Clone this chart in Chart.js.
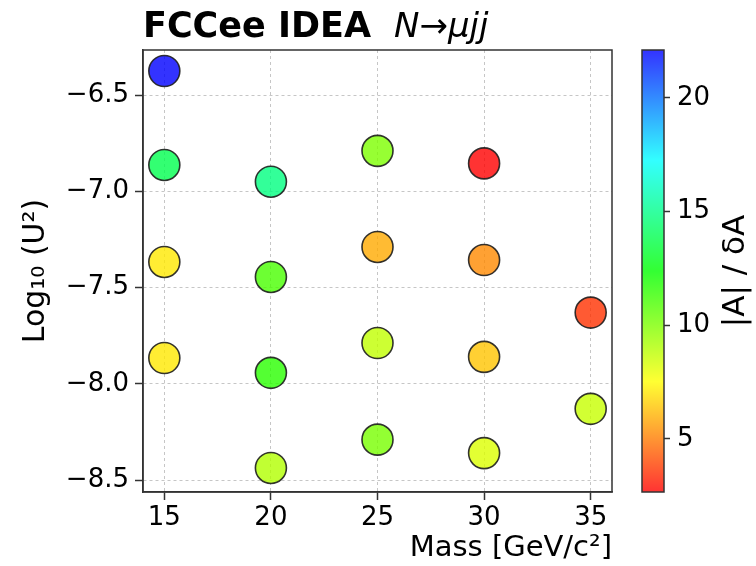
<!DOCTYPE html>
<html>
<head>
<meta charset="utf-8">
<script src="https://cdn.jsdelivr.net/npm/chart.js@4/dist/chart.umd.min.js"></script>
<style>
  html, body { margin: 0; padding: 0; background: #ffffff; }
  #wrap { position: relative; width: 756px; height: 566px; }
  canvas { position: absolute; left: 0; top: 0; }
</style>
</head>
<body>
<div id="wrap">
  <canvas id="main" width="756" height="566"></canvas>
  <canvas id="cbar" width="756" height="566"></canvas>
</div>
<script>
// ---- data ----
const massValues = [15, 15, 15, 15, 20, 20, 20, 20, 25, 25, 25, 25, 30, 30, 30, 30, 35, 35];
const logU2Values = [-6.375, -6.863, -7.367, -7.866, -6.95, -7.445, -7.943, -8.437, -6.79, -7.289, -7.788, -8.29, -6.855, -7.357, -7.86, -8.36, -7.63, -8.13];
const significance = [22.1, 13.9, 7.1, 7.1, 14.8, 11.0, 11.6, 9.0, 10.0, 5.9, 8.7, 10.1, 2.67, 5.3, 6.4, 8.2, 3.6, 8.6];
const xTickValues = [15, 20, 25, 30, 35];
const yTickValues = [-6.5, -7.0, -7.5, -8.0, -8.5];
const cbarTickValues = [5, 10, 15, 20];
const titleBold = "FCCee IDEA";
const titleItalic = "N\u2192\u03BCjj";
const xLabel = "Mass [GeV/c\u00B2]";
const yLabel = "Log\u2081\u2080 (U\u00B2)";
const cbarLabel = "|A| / \u03B4A";

const vMin = Math.min(...significance);
const vMax = Math.max(...significance);
function colorFor(v, alpha) {
  const t = Math.max(0, Math.min(1, (v - vMin) / (vMax - vMin)));
  return `hsla(${(t * 240).toFixed(1)}, 100%, 50%, ${alpha})`;
}
const FONT = "'DejaVu Sans', 'Liberation Sans', sans-serif";
const minusFmt = (v) => String(v).replace('-', '\u2212');

const points = massValues.map((m, i) => ({ x: m, y: logU2Values[i], v: significance[i] }));

const framePlugin = {
  id: 'frame',
  afterDraw(chart) {
    const { ctx, chartArea: a } = chart;
    ctx.save();
    ctx.strokeStyle = '#333333';
    ctx.lineWidth = 1.5;
    ctx.strokeRect(a.left, a.top, a.right - a.left, a.bottom - a.top);
    ctx.fillStyle = '#000';
    ctx.textBaseline = 'alphabetic';
    ctx.textAlign = 'left';
    ctx.font = `bold 35px ${FONT}`;
    ctx.fillText(titleBold, 143, 37);
    ctx.font = `italic 34px ${FONT}`;
    ctx.fillText(titleItalic, 394, 37);
    ctx.restore();
  }
};

new Chart(document.getElementById('main'), {
  type: 'scatter',
  data: {
    datasets: [{
      data: points,
      pointRadius: 15.5,
      pointHoverRadius: 15.5,
      pointBorderWidth: 1.6,
      pointBorderColor: 'rgba(30,30,30,0.9)',
      pointBackgroundColor: points.map(p => colorFor(p.v, 0.8))
    }]
  },
  options: {
    responsive: false,
    animation: false,
    devicePixelRatio: 1,
    layout: { padding: { top: 50, right: 144, bottom: 0, left: 0 } },
    plugins: { legend: { display: false }, tooltip: { enabled: false }, title: { display: false } },
    scales: {
      x: {
        type: 'linear', min: 14, max: 36,
        afterFit(s) { s.height = 74; },
        afterBuildTicks(s) { s.ticks = xTickValues.map(v => ({ value: v })); },
        ticks: { color: '#000', font: { family: FONT, size: 26 }, padding: 3, maxRotation: 0, callback: (v) => minusFmt(v) },
        grid: { color: 'rgba(176,176,176,0.9)', lineWidth: 0.8, tickLength: 8, tickColor: '#333', tickWidth: 1.5 },
        border: { display: true, color: '#333', width: 1.5, dash: [3, 3] },
        title: { display: true, text: xLabel, align: 'end', color: '#000', font: { family: FONT, size: 29 }, padding: { top: 1, bottom: 0 } }
      },
      y: {
        type: 'linear', min: -8.562, max: -6.266,
        afterFit(s) { s.width = 143; },
        afterBuildTicks(s) { s.ticks = yTickValues.map(v => ({ value: v })); },
        ticks: { color: '#000', font: { family: FONT, size: 26 }, padding: 6, callback: (v) => minusFmt(v.toFixed(1)) },
        grid: { color: 'rgba(176,176,176,0.9)', lineWidth: 0.8, tickLength: 8, tickColor: '#333', tickWidth: 1.5 },
        border: { display: true, color: '#333', width: 1.5, dash: [3, 3] },
        title: { display: true, text: yLabel, color: '#000', font: { family: FONT, size: 30 }, padding: { top: 18, bottom: 0 } }
      }
    }
  },
  plugins: [framePlugin]
});

// ---- colorbar ----
const cbarPlugin = {
  id: 'cbar',
  beforeDatasetsDraw(chart) {
    const { ctx, chartArea: a } = chart;
    const ys = chart.scales.y;
    const yTop = ys.getPixelForValue(vMax), yBot = ys.getPixelForValue(vMin);
    const g = ctx.createLinearGradient(0, yBot, 0, yTop);
    for (let i = 0; i <= 24; i++) {
      const v = vMin + (vMax - vMin) * i / 24;
      g.addColorStop(i / 24, colorFor(v, 0.8));
    }
    ctx.save();
    ctx.fillStyle = g;
    ctx.fillRect(a.left, yTop, a.right - a.left, yBot - yTop);
    ctx.strokeStyle = '#333';
    ctx.lineWidth = 1.5;
    ctx.strokeRect(a.left, yTop, a.right - a.left, yBot - yTop);
    ctx.translate(736, (a.top + a.bottom) / 2);
    ctx.rotate(-Math.PI / 2);
    ctx.fillStyle = '#000';
    ctx.font = `31px ${FONT}`;
    ctx.textAlign = 'center';
    ctx.textBaseline = 'middle';
    ctx.fillText(cbarLabel, 0, 0);
    ctx.restore();
  }
};

new Chart(document.getElementById('cbar'), {
  type: 'scatter',
  data: { datasets: [{ data: [] }] },
  options: {
    responsive: false,
    animation: false,
    devicePixelRatio: 1,
    layout: { padding: { top: 50, right: 0, bottom: 74, left: 642 } },
    plugins: { legend: { display: false }, tooltip: { enabled: false } },
    scales: {
      x: { display: false, min: 0, max: 1 },
      y: {
        type: 'linear', position: 'right', min: vMin, max: vMax,
        afterFit(s) { s.width = 92; },
        afterBuildTicks(s) { s.ticks = cbarTickValues.map(v => ({ value: v })); },
        ticks: { color: '#000', font: { family: FONT, size: 26 }, padding: 7 },
        grid: { drawOnChartArea: false, tickLength: 6, tickColor: '#333', tickWidth: 1.5 },
        border: { display: false }
      }
    }
  },
  plugins: [cbarPlugin]
});
</script>
</body>
</html>
